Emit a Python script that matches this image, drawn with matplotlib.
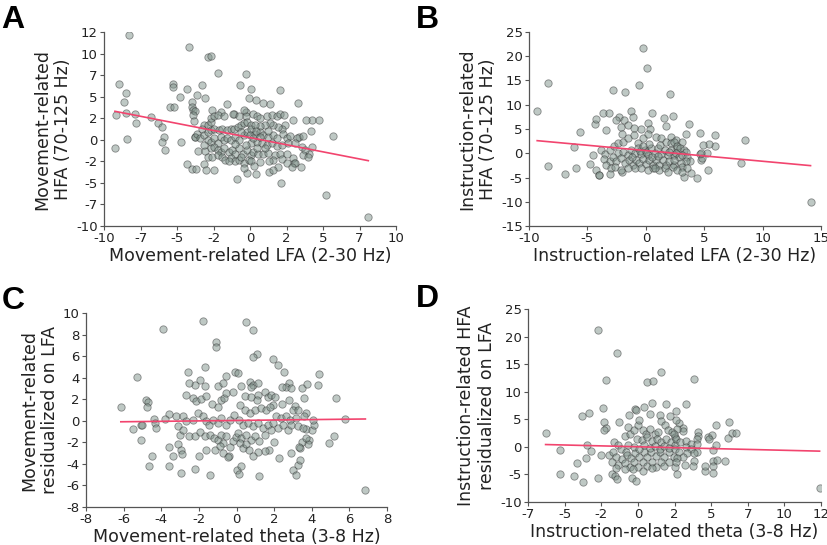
import numpy as np
import matplotlib
matplotlib.use("Agg")
import matplotlib.pyplot as plt
from matplotlib.ticker import FixedLocator, FormatStrFormatter

##### Data #####

# A: movement-related LFA (x) vs HFA (y)
a_pts = [
    (-8.3, 12.2), (-4.2, 10.8), (-2.85, 9.6), (-2.7, 9.7), (-2.2, 7.7), (-0.3, 7.6),
    (-9.0, 6.5), (-5.3, 6.5), (-5.3, 6.1), (-3.3, 6.3), (-0.7, 6.4), (0.1, 5.9),
    (2.05, 5.8), (-4.3, 5.9), (-4.8, 5.0), (-3.1, 4.8), (-0.1, 4.8), (0.4, 4.6),
    (0.9, 4.3), (1.4, 4.1), (3.3, 4.3), (-1.55, 4.15), (-8.5, 5.4), (-8.65, 4.4),
    (-4.0, 4.4), (-5.5, 3.8), (-5.2, 3.8), (-4.0, 3.8), (-3.9, 3.4), (-3.8, 3.3),
    (-2.6, 3.4), (-2.0, 3.2), (-1.1, 3.0), (-0.3, 3.2), (-0.3, 2.8), (-9.2, 2.9),
    (-8.5, 3.1), (-7.9, 3.0), (-7.8, 2.0), (-6.8, 2.65), (-6.3, 2.0), (-6.0, 1.45),
    (-5.9, 0.3), (-8.45, 0.1), (-9.25, -0.9), (-6.05, -0.3), (-5.85, -1.15), (-4.7, -0.2),
    (-3.8, 0.3), (-3.75, 0.3), (-3.55, -1.3), (-3.1, -1.3), (-4.3, -2.85), (-4.0, -3.4),
    (-3.7, -3.4), (-3.15, -2.85), (-3.0, -3.5), (-2.5, -3.5), (-0.9, -4.5), (-0.2, -3.85),
    (0.4, -4.0), (1.3, -3.7), (2.1, -5.0), (5.2, -6.4), (8.1, -8.9), (5.65, 0.45),
    (4.25, 2.3), (4.75, 2.3), (4.15, 1.0), (3.35, 0.3), (4.25, -0.85), (4.05, -1.6),
    (3.5, -3.1), (3.0, -2.7), (-3.6, 5.2), (-3.9, 2.9), (-3.85, 2.2),
    (-3.15, 1.7), (-3.3, 1.3), (-2.9, 1.7), (-2.7, 2.1), (-2.65, 2.5), (-2.5, 2.7),
    (-2.2, 2.9), (-1.8, 2.7), (-1.15, 3.0), (-0.75, 2.7), (-0.4, 3.4),
    (-3.6, 0.7), (-3.4, 0.15), (-3.15, 0.5), (-2.9, 0.9), (-2.7, 1.1), (-2.5, 1.3),
    (-2.1, 1.1), (-1.9, 1.3), (-1.55, 1.1), (-1.3, 1.3), (-1.1, 1.3), (-0.85, 1.5),
    (-0.65, 1.7), (-0.4, 1.9), (-0.2, 2.1), (0.05, 1.7),
    (-2.9, 0.0), (-2.7, -0.2), (-2.5, 0.15), (-2.2, -0.4), (-2.0, 0.35), (-1.8, 0.0),
    (-1.55, 0.15), (-1.3, 0.0), (-1.0, 0.35), (-0.75, 0.0), (-0.4, 0.5), (-0.2, 0.9),
    (0.05, 1.3),
    (-3.15, -0.6), (-2.7, -1.0), (-2.5, -0.8), (-2.2, -1.2), (-2.0, -1.4), (-1.8, -1.0),
    (-1.45, -1.4), (-1.2, -1.2), (-1.0, -1.6), (-0.75, -1.0), (-0.5, -1.6), (-0.2, -1.2),
    (0.05, -1.8),
    (-2.9, -2.0), (-2.6, -2.0), (-2.2, -1.8), (-1.9, -2.0), (-1.7, -2.35), (-1.3, -2.15),
    (-1.0, -2.5), (-0.75, -2.35), (-0.4, -2.7), (-0.05, -2.35), (-1.45, -2.5), (-0.4, -3.3),
    (0.23, 3.0), (0.46, 2.8), (0.68, 2.5), (1.14, 2.7), (1.48, 2.9), (1.83, 2.8),
    (2.05, 3.0), (2.33, 2.9), (2.92, 2.3), (3.84, 2.3),
    (2.4, 1.7), (2.17, 1.3), (1.94, 1.5), (1.6, 1.7), (1.37, 1.9), (1.03, 1.7),
    (0.68, 1.6), (0.34, 1.7),
    (0.0, 0.5), (0.34, 0.7), (0.68, 0.9), (0.9, 0.5), (1.26, 0.35), (1.6, 0.6),
    (1.83, 0.15), (2.28, 0.7), (2.5, 0.2), (2.74, 0.45), (3.2, 0.15), (3.65, 0.45),
    (0.1, -0.4), (0.46, -0.2), (0.8, -0.4), (1.14, -0.6), (1.48, -0.4), (1.83, -0.7),
    (2.17, -0.6), (2.6, -0.4), (3.08, -0.4), (3.54, -0.8), (3.77, -1.2),
    (0.23, -1.4), (0.57, -1.6), (0.9, -1.7), (1.26, -1.5), (1.7, -1.8), (2.05, -1.6),
    (2.5, -1.7), (2.97, -2.1), (3.65, -1.8), (4.0, -2.0),
    (0.1, -2.5), (0.68, -2.6), (1.6, -2.35), (2.17, -2.2), (2.5, -2.7), (3.08, -2.7),
    (2.85, -3.2), (1.94, -3.2), (1.6, -3.5),
    (-0.6, 0.9), (0.2, 0.2), (0.5, -0.9), (-0.3, -0.6), (0.7, 0.3), (1.0, -1.0),
    (-1.0, -0.5), (0.4, 1.0), (1.2, 1.0), (-0.6, -2.0), (1.3, -2.5), (0.3, -3.0),
]

# B: instruction-related LFA (x) vs HFA (y)
b_pts = [
    (-9.3, 8.8), (-8.35, 14.5), (-8.4, -2.7), (-6.95, -4.3), (-6.15, 1.3), (-5.95, -3.1),
    (-5.65, 4.4), (-4.8, -2.25), (-4.5, -0.4), (-4.35, 6.0), (-4.25, 7.1), (-4.3, -3.5),
    (-4.05, -4.5), (-4.0, -4.45), (-3.65, 8.2), (-3.15, 8.2), (-3.4, 4.7), (-2.8, 13.1),
    (-1.8, 12.7), (-0.57, 14.0), (-0.2, 21.6), (0.1, 17.5), (2.1, 12.3), (-1.3, 8.7),
    (-1.1, 7.5), (-2.3, 7.5), (-2.55, 6.8), (-1.9, 6.8), (-2.15, 5.4), (-2.0, 4.0),
    (-0.45, 5.1), (0.2, 6.2), (0.4, 5.1), (0.57, 8.2), (1.55, 7.3), (2.3, 7.7),
    (1.75, 5.6), (3.7, 6.1), (3.4, 4.0), (2.15, 3.4), (4.6, 4.2), (5.9, 3.7),
    (5.95, 1.5), (5.4, 2.0), (4.9, 1.8), (5.25, 0.0), (4.6, -0.2), (4.7, -1.3),
    (5.3, -3.4), (4.35, -5.1), (3.3, -4.9), (3.9, -4.0), (8.45, 2.7), (8.15, -2.1),
    (14.1, -10.0), (-1.55, 5.8), (-1.0, 5.3),
    (-3.8, 0.7), (-3.5, -0.2), (-3.1, 0.7), (-2.75, 1.4), (-2.4, 2.05), (-1.95, 2.4),
    (-1.55, 3.1), (-1.0, 3.8), (-0.7, 2.05), (-0.25, 3.1), (0.17, 3.9), (0.9, 3.4),
    (1.3, 3.1), (1.75, 2.4), (2.15, 2.05), (2.6, 2.7),
    (-2.4, 0.0), (-1.95, 0.35), (-1.55, -0.35), (-1.25, 0.7), (-0.95, 0.0), (-0.7, 1.0),
    (-0.4, -0.2), (-0.1, 0.7), (0.17, -0.35), (0.45, 1.0), (0.75, 0.0), (1.0, 1.0),
    (1.3, -0.2), (1.6, 0.7), (1.9, -0.35), (2.15, 0.7), (2.45, -0.35), (2.7, 1.0),
    (-3.55, -1.15), (-3.1, -1.6), (-2.8, -0.7), (-2.55, -1.7), (-2.1, -1.0), (-1.8, -2.05),
    (-1.4, -1.4), (-1.1, -2.4), (-0.8, -1.4), (-0.55, -2.05), (-0.25, -1.15), (0.0, -2.25),
    (0.3, -1.4), (0.6, -2.4), (0.9, -1.4), (1.15, -2.4), (1.45, -1.4), (1.75, -2.4),
    (2.0, -1.6), (2.45, -2.4),
    (-3.4, -2.4), (-3.0, -3.1), (-2.6, -2.75), (-2.0, -3.9), (-2.1, -3.4), (-1.55, -3.1),
    (-0.95, -3.1), (-0.4, -3.1), (0.17, -3.4), (0.6, -3.1), (1.15, -3.4), (1.6, -3.1),
    (1.9, -3.9), (2.35, -2.75), (-3.1, -4.3),
    (2.4, 2.4), (3.1, 2.4), (2.7, 1.4), (2.95, 1.0), (3.25, 0.7), (3.4, 0.2),
    (2.55, 0.0), (2.8, -0.7), (3.1, -0.35), (3.5, -0.7), (3.8, -1.7), (3.4, -1.7),
    (3.0, -2.05), (3.1, -2.75), (3.5, -3.1), (4.8, -1.0), (4.75, 0.0), (2.4, -1.4),
    (2.7, -3.4), (3.1, -3.8),
    (0.0, 0.3), (0.5, -0.8), (-0.5, 0.5), (1.0, -0.5), (0.3, 2.0), (1.2, 1.8),
    (-1.2, -0.7), (0.8, -3.0), (-0.2, 1.5), (2.0, 0.2),
]

# C: movement-related theta (x) vs HFA residualized on LFA (y)
c_pts = [
    (-1.8, 9.3), (0.5, 9.2), (-3.9, 8.5), (0.9, 8.4), (-1.1, 7.3), (-1.1, 6.8),
    (1.1, 6.2), (0.87, 5.9), (1.95, 5.7), (2.2, 5.2), (-1.65, 5.0), (2.55, 4.5),
    (-2.6, 4.5), (-5.3, 4.1), (4.4, 4.3), (4.35, 3.3), (-0.1, 4.5), (0.1, 4.4),
    (-0.55, 4.2), (-1.95, 3.75), (-2.2, 3.3), (-2.55, 3.55), (-6.15, 1.3), (-5.5, -0.8),
    (-5.1, -0.4), (-5.1, -1.8), (-4.8, 1.9), (-4.7, 1.7), (-4.75, 1.25), (-4.4, 0.2),
    (-4.35, -0.25), (-4.3, -0.7), (-4.5, -3.3), (-4.65, -4.2), (-3.6, -2.4), (-3.6, -4.2),
    (-3.4, -3.3), (-2.95, -4.85), (-2.2, -4.5), (-1.4, -5.0), (-2.0, -3.3), (0.05, -4.6),
    (0.15, -4.9), (0.25, -4.2), (1.2, -5.1), (2.9, -3.0), (3.0, -4.6), (3.15, -5.0),
    (3.25, -4.1), (3.35, -3.6), (3.35, -2.5), (4.9, -2.1), (5.2, -1.4), (5.3, 2.1),
    (5.75, 0.2), (6.85, -6.45), (3.6, 2.1), (3.5, 3.0), (3.75, 3.4), (3.7, -0.8),
    (4.0, -0.85), (4.1, -0.35), (3.85, -1.75), (3.8, -2.2), (3.5, -1.95),
    (-1.7, 3.25), (-1.0, 3.2), (-2.7, 2.4), (-2.3, 2.1), (-2.15, 1.8), (-1.9, 2.0),
    (-1.6, 2.3), (-1.3, 1.6), (-1.0, 1.3), (-0.8, 1.95), (-0.65, 2.1), (-0.55, 2.55),
    (-0.2, 2.7), (-0.7, 3.5),
    (-3.6, 0.65), (-3.8, 0.15), (-3.2, 0.45), (-2.85, 0.45), (-2.7, -0.05), (-2.3, 0.1),
    (-2.05, 0.7), (-1.8, 0.4), (-1.6, -0.05), (-1.45, -0.35), (-1.25, 0.1), (-1.0, -0.2),
    (-0.8, 0.25), (-0.55, -0.35), (-0.35, 0.1), (-0.15, 0.55), (-5.0, -0.35),
    (-3.1, -0.5), (-3.0, -1.3), (-2.85, -0.85), (-2.5, -1.4), (-2.2, -1.4), (-1.95, -1.0),
    (-1.7, -1.45), (-1.4, -1.3), (-1.2, -1.6), (-1.0, -1.8), (-0.8, -1.3), (-0.7, -2.05),
    (-0.55, -1.45), (-0.35, -2.4), (-0.2, -1.9), (-0.05, -1.55),
    (-3.1, -2.2), (-2.95, -2.7), (-2.9, -3.05), (-1.6, -2.7), (-1.15, -2.7), (-0.9, -2.3),
    (-0.7, -3.0), (-0.4, -3.3), (-0.45, -3.4),
    (2.8, 3.55), (2.65, 3.1), (2.9, 3.0),
    (0.25, 3.2), (0.73, 3.6), (0.9, 3.3), (1.15, 3.55), (0.78, 3.1), (0.43, 2.3),
    (0.78, 2.25), (1.12, 2.4), (1.08, 1.95), (1.5, 2.7), (1.67, 2.2), (1.85, 2.4),
    (1.93, 1.5), (2.07, 2.2), (2.4, 3.1), (2.4, 1.6), (2.8, 1.9), (3.1, 1.35),
    (3.0, 1.0), (3.25, 1.0), (3.7, 0.75), (3.6, 0.4), (4.05, 0.1),
    (0.16, 1.5), (0.43, 1.0), (0.7, 0.7), (0.96, 1.0), (1.31, 1.15), (1.58, 1.0),
    (1.76, 1.3), (2.1, 0.4), (2.38, 0.25), (2.64, 0.45), (2.82, 0.1), (3.14, 0.25),
    (0.12, 0.1), (0.34, -0.35), (0.6, -0.2), (0.87, -0.5), (1.13, -0.2), (1.4, -0.7),
    (1.67, -0.35), (1.93, -0.2), (2.2, -0.7), (2.46, -0.35), (2.73, -0.85), (2.9, -0.35),
    (3.26, -0.5), (3.53, -0.7),
    (0.07, -1.15), (0.25, -1.6), (0.5, -1.3), (0.78, -1.75), (0.96, -1.45), (1.22, -1.9),
    (1.49, -1.3), (1.84, -0.85), (1.99, -2.0), (1.72, -2.75), (1.49, -2.8), (2.25, -3.45),
    (0.16, -2.05), (0.34, -2.5), (0.5, -2.2), (0.69, -2.7), (1.13, -2.85), (0.87, -3.3),
    (3.32, -2.4), (3.7, -1.6),
]

# D: instruction-related theta (x) vs HFA residualized on LFA (y)
d_pts = [
    (-6.3, 2.6), (-5.3, -0.65), (-5.35, -4.95), (-4.35, -5.2), (-4.15, -2.95), (-3.75, -6.45),
    (-3.8, 5.55), (-3.35, 6.15), (-3.45, 0.35), (-3.55, -1.95), (-3.2, -0.8), (-2.7, -5.6),
    (-2.55, -1.55), (-2.7, 21.2), (-2.4, 7.0), (-2.3, 4.5), (-2.2, 3.4), (-2.3, 3.15),
    (-2.15, 12.1), (-1.45, 17.1), (-1.3, 4.5), (-1.65, 0.95), (-1.75, -4.95), (-1.55, -5.3),
    (-1.4, -5.9), (-0.4, -5.6), (-0.1, -6.1), (0.65, 11.8), (1.05, 12.0), (1.6, 13.5),
    (3.85, 12.4), (-0.2, 6.9), (-0.1, 6.75), (0.4, 7.2), (0.95, 8.0), (1.9, 7.75),
    (3.25, 7.75), (2.6, 6.45), (2.2, 5.55), (1.5, 5.8), (0.8, 6.0), (1.6, 4.65),
    (-0.6, 5.7), (2.8, 4.3), (6.2, 4.6), (5.35, 4.05), (6.15, 1.55), (6.45, 2.5),
    (6.7, 2.6), (5.95, -2.6), (5.1, -0.65), (5.3, 0.25), (5.15, -2.65), (5.1, -3.4),
    (5.15, -4.7), (4.55, -4.45), (4.6, -3.55), (4.1, 2.65), (4.1, 2.05), (4.8, 1.75),
    (5.05, 2.2), (12.4, -7.4), (2.7, -4.9), (-1.95, -1.4),
    (-1.35, 0.3), (-1.15, -0.4), (-0.8, -0.9), (-0.65, 0.4), (-0.9, 2.0), (-0.55, 2.25),
    (-0.7, 3.6), (-0.25, 3.0), (0.0, 3.9), (0.1, 4.8), (0.35, 3.0), (0.55, 2.4),
    (0.8, 3.3), (1.15, 2.4), (1.35, 2.7), (1.85, 3.9), (2.05, 3.0), (2.3, 2.7),
    (2.5, 1.8), (-0.05, 1.5), (0.25, 1.2), (0.6, 1.8), (0.95, 1.0), (1.3, 1.5),
    (1.6, 0.9), (1.95, 1.5), (2.25, 0.9), (2.55, 0.4),
    (-1.7, -0.9), (-1.5, -1.8), (-1.1, -2.25), (-0.75, -1.5), (-0.45, -2.1), (-0.2, -1.2),
    (0.1, -1.8), (0.4, -0.9), (0.65, -1.8), (0.9, -0.9), (1.25, -1.65), (1.5, -0.9),
    (1.8, -1.8), (2.15, -0.9), (2.45, -1.8), (-0.25, 0.0), (0.1, -0.3), (0.45, 0.3),
    (0.8, -0.2), (1.15, 0.2), (1.5, -0.3), (1.8, 0.2), (2.15, -0.2), (2.5, -0.3),
    (-1.8, -2.7), (-1.35, -3.3), (-0.9, -3.0), (-0.55, -3.6), (-0.25, -2.7), (0.0, -3.6),
    (0.35, -2.7), (0.65, -3.45), (0.95, -2.7), (1.25, -3.6), (1.55, -2.7), (1.8, -3.45),
    (2.15, -2.7), (2.5, -3.6), (-0.35, -4.05), (0.35, -4.35), (0.95, -3.9), (-0.85, -4.0),
    (-1.5, -3.9),
    (2.6, 4.8), (3.05, 3.45), (3.1, 2.85), (2.7, 3.2), (2.45, 2.4), (2.6, 1.5),
    (2.9, 0.9), (3.25, 1.0), (3.6, 0.6), (4.0, 1.5), (4.05, 0.6), (3.25, 0.0),
    (3.6, -0.4), (4.0, -0.9), (2.8, -0.9), (3.35, -1.2), (3.1, -1.8), (2.7, -2.0),
    (2.6, -2.7), (3.8, -1.2), (4.85, 1.5), (5.4, -2.3), (3.8, -2.5), (3.75, -3.45),
    (3.2, -3.3),
]

# regression lines (slope, intercept)
a_fit = (-0.33, 0.25)
b_fit = (-0.22, 0.55)
c_fit = (0.02, 0.03)
d_fit = (-0.064, 0.02)

a_xticks = [-10, -7.5, -5, -2.5, 0, 2.5, 5, 7.5, 10]
a_yticks = [-10, -7.5, -5, -2.5, 0, 2.5, 5, 7.5, 10, 12.5]
b_xticks = [-10, -5, 0, 5, 10, 15]
b_yticks = [-15, -10, -5, 0, 5, 10, 15, 20, 25]
c_xticks = [-8, -6, -4, -2, 0, 2, 4, 6, 8]
c_yticks = [-8, -6, -4, -2, 0, 2, 4, 6, 8, 10]
d_xticks = [-7.5, -5, -2.5, 0, 2.5, 5, 7.5, 10, 12.5]
d_yticks = [-10, -5, 0, 5, 10, 15, 20, 25]

##### Plotting #####

POINT_FC = '#7f928a'
POINT_EC = '#2b2b2b'
LINE_COLOR = '#f2446e'


def draw_panel(ax, pts, fit, xticks, yticks, xlabel, ylabel):
    pts = np.array(pts)
    x, y = pts[:, 0], pts[:, 1]
    ax.scatter(x, y, s=28, facecolor=POINT_FC, edgecolor=POINT_EC,
               linewidth=0.6, alpha=0.5, zorder=2)
    xs = np.array([x.min(), x.max()])
    ax.plot(xs, fit[1] + fit[0] * xs, color=LINE_COLOR, lw=1.2, zorder=3)

    ax.set_xlim(xticks[0], xticks[-1])
    ax.set_ylim(yticks[0], yticks[-1])
    ax.xaxis.set_major_locator(FixedLocator(xticks))
    ax.yaxis.set_major_locator(FixedLocator(yticks))
    ax.xaxis.set_major_formatter(FormatStrFormatter('%d'))
    ax.yaxis.set_major_formatter(FormatStrFormatter('%d'))

    for side in ['top', 'right']:
        ax.spines[side].set_visible(False)
    for side in ['left', 'bottom']:
        ax.spines[side].set_color('#555555')
        ax.spines[side].set_linewidth(0.9)
    ax.tick_params(direction='out', length=3, width=0.8, color='#555555',
                   labelsize=9.5, labelcolor='#222222', pad=1.5)
    ax.set_xlabel(xlabel, fontsize=12.5, color='#222222', labelpad=1)
    ax.set_ylabel(ylabel, fontsize=12.5, color='#222222', labelpad=3,
                  multialignment='center')


fig = plt.figure(figsize=(8.28, 5.45), dpi=100)

ax_a = fig.add_axes([0.1256, 0.5853, 0.3527, 0.356])
ax_b = fig.add_axes([0.6389, 0.5853, 0.3527, 0.356])
ax_c = fig.add_axes([0.1039, 0.0697, 0.3635, 0.356])
ax_d = fig.add_axes([0.6377, 0.0789, 0.3539, 0.354])

draw_panel(ax_a, a_pts, a_fit, a_xticks, a_yticks,
           'Movement-related LFA (2-30 Hz)', 'Movement-related\nHFA (70-125 Hz)')
draw_panel(ax_b, b_pts, b_fit, b_xticks, b_yticks,
           'Instruction-related LFA (2-30 Hz)', 'Instruction-related\nHFA (70-125 Hz)')
draw_panel(ax_c, c_pts, c_fit, c_xticks, c_yticks,
           'Movement-related theta (3-8 Hz)', 'Movement-related\nresidualized on LFA')
draw_panel(ax_d, d_pts, d_fit, d_xticks, d_yticks,
           'Instruction-related theta (3-8 Hz)', 'Instruction-related HFA\nresidualized on LFA')

letter_kw = dict(fontsize=23, fontweight='bold', family='Liberation Sans', va='top', ha='left')
fig.text(0.002, 0.99, 'A', **letter_kw)
fig.text(0.502, 0.99, 'B', **letter_kw)
fig.text(0.002, 0.475, 'C', **letter_kw)
fig.text(0.502, 0.478, 'D', **letter_kw)

fig.savefig('out.png', dpi=100)
